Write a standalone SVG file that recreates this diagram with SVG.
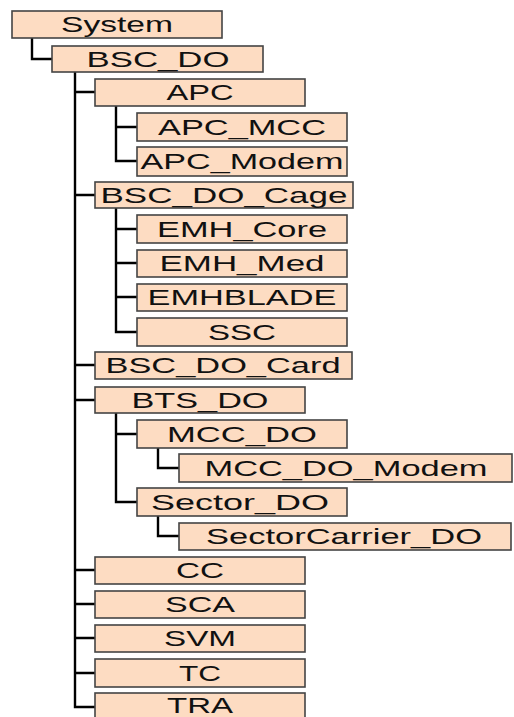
<svg xmlns="http://www.w3.org/2000/svg" width="514" height="717" viewBox="0 0 514 717">
<style>
.b{fill:#FDDCC2;stroke:#444;stroke-width:1.6}
.t{font-family:"Liberation Sans",Arial,sans-serif;font-size:22.5px;fill:#111;text-anchor:middle}
.c{fill:none;stroke:#000;stroke-width:2.4}
</style>
<rect width="514" height="717" fill="#fff"/>
<g id="connectors">
<path class="c" d="M32 38V59H52"/>
<path class="c" d="M75 72V707H95M75 92H95M75 195H95M75 365H95M75 400H95M75 570H95M75 604H95M75 638H95M75 673H95"/>
<path class="c" d="M116 106V161H137M116 127H137"/>
<path class="c" d="M116 208V332H137M116 229H137M116 263H137M116 297H137"/>
<path class="c" d="M116 413V502H137M116 434H137"/>
<path class="c" d="M158 448V468H179"/>
<path class="c" d="M158 516V536H179"/>
</g>
<g id="System"><rect class="b" x="12" y="11" width="210" height="27"/><text class="t" x="117" y="32" textLength="112" lengthAdjust="spacingAndGlyphs">System</text></g>
<g id="BSC_DO"><rect class="b" x="52" y="46" width="211" height="26"/><text class="t" x="158" y="67" textLength="143" lengthAdjust="spacingAndGlyphs">BSC_DO</text></g>
<g id="APC"><rect class="b" x="95" y="79" width="210" height="27"/><text class="t" x="200" y="100" textLength="67" lengthAdjust="spacingAndGlyphs">APC</text></g>
<g id="APC_MCC"><rect class="b" x="137" y="113" width="210" height="28"/><text class="t" x="242" y="135" textLength="168" lengthAdjust="spacingAndGlyphs">APC_MCC</text></g>
<g id="APC_Modem"><rect class="b" x="137" y="147" width="210" height="29"/><text class="t" x="242" y="169" textLength="203" lengthAdjust="spacingAndGlyphs">APC_Modem</text></g>
<g id="BSC_DO_Cage"><rect class="b" x="95" y="182" width="258" height="26"/><text class="t" x="224" y="203" textLength="247" lengthAdjust="spacingAndGlyphs">BSC_DO_Cage</text></g>
<g id="EMH_Core"><rect class="b" x="137" y="215" width="210" height="28"/><text class="t" x="242" y="237" textLength="170" lengthAdjust="spacingAndGlyphs">EMH_Core</text></g>
<g id="EMH_Med"><rect class="b" x="137" y="250" width="210" height="27"/><text class="t" x="242" y="271" textLength="165" lengthAdjust="spacingAndGlyphs">EMH_Med</text></g>
<g id="EMHBLADE"><rect class="b" x="137" y="284" width="210" height="27"/><text class="t" x="242" y="305" textLength="189" lengthAdjust="spacingAndGlyphs">EMHBLADE</text></g>
<g id="SSC"><rect class="b" x="137" y="318" width="210" height="28"/><text class="t" x="242" y="340" textLength="68" lengthAdjust="spacingAndGlyphs">SSC</text></g>
<g id="BSC_DO_Card"><rect class="b" x="95" y="352" width="257" height="27"/><text class="t" x="223" y="373" textLength="235" lengthAdjust="spacingAndGlyphs">BSC_DO_Card</text></g>
<g id="BTS_DO"><rect class="b" x="95" y="387" width="210" height="26"/><text class="t" x="200" y="408" textLength="137" lengthAdjust="spacingAndGlyphs">BTS_DO</text></g>
<g id="MCC_DO"><rect class="b" x="137" y="420" width="210" height="28"/><text class="t" x="242" y="442" textLength="150" lengthAdjust="spacingAndGlyphs">MCC_DO</text></g>
<g id="MCC_DO_Modem"><rect class="b" x="179" y="454" width="333" height="28"/><text class="t" x="346" y="476" textLength="283" lengthAdjust="spacingAndGlyphs">MCC_DO_Modem</text></g>
<g id="Sector_DO"><rect class="b" x="137" y="488" width="210" height="28"/><text class="t" x="240" y="510" textLength="178" lengthAdjust="spacingAndGlyphs">Sector_DO</text></g>
<g id="SectorCarrier_DO"><rect class="b" x="179" y="523" width="332" height="27"/><text class="t" x="344" y="544" textLength="276" lengthAdjust="spacingAndGlyphs">SectorCarrier_DO</text></g>
<g id="CC"><rect class="b" x="95" y="557" width="210" height="27"/><text class="t" x="200" y="578" textLength="48" lengthAdjust="spacingAndGlyphs">CC</text></g>
<g id="SCA"><rect class="b" x="95" y="591" width="210" height="27"/><text class="t" x="200" y="612" textLength="70" lengthAdjust="spacingAndGlyphs">SCA</text></g>
<g id="SVM"><rect class="b" x="95" y="625" width="210" height="27"/><text class="t" x="200" y="646" textLength="72" lengthAdjust="spacingAndGlyphs">SVM</text></g>
<g id="TC"><rect class="b" x="95" y="659" width="210" height="28"/><text class="t" x="200" y="681" textLength="42" lengthAdjust="spacingAndGlyphs">TC</text></g>
<g id="TRA"><rect class="b" x="95" y="693" width="210" height="28"/><text class="t" x="200" y="713" textLength="66" lengthAdjust="spacingAndGlyphs">TRA</text></g>
</svg>
